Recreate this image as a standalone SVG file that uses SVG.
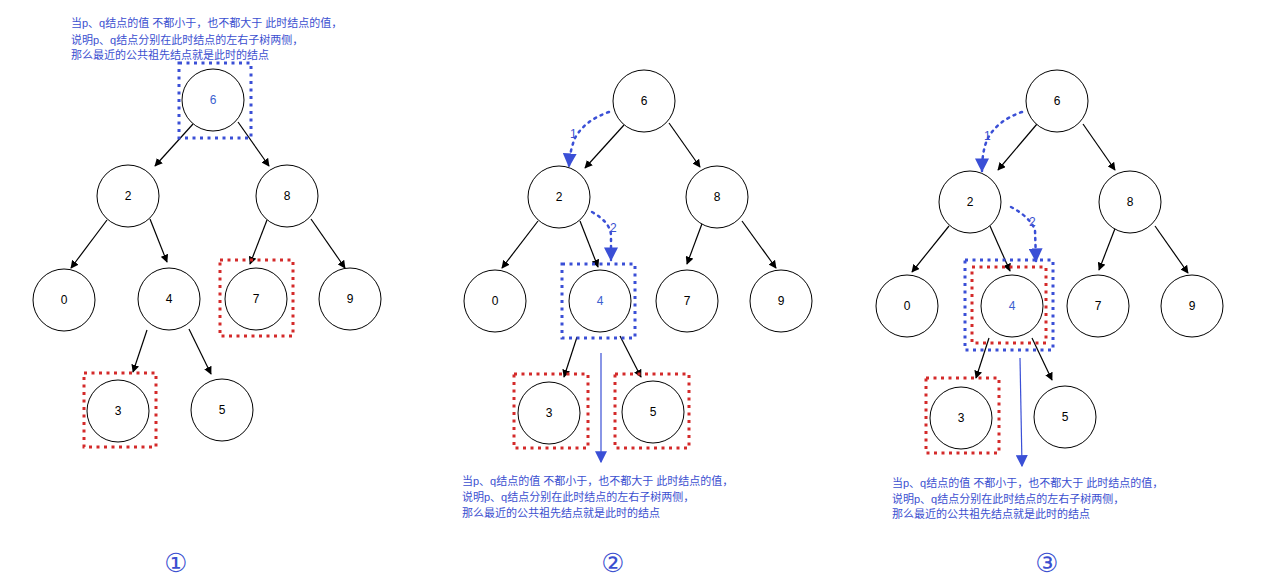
<svg xmlns="http://www.w3.org/2000/svg" width="1265" height="579" viewBox="0 0 1265 579">
<style>
.n circle{fill:#fff;stroke:#000;stroke-width:1}
.n text{font-family:"Liberation Sans",sans-serif;font-size:12px;text-anchor:middle;dominant-baseline:central;fill:#000}
.n text.b{fill:#3b5fd0}
.e line{stroke:#000;stroke-width:1.2;marker-end:url(#ah)}
.bb{fill:none;stroke:#3a4fd6;stroke-width:3;stroke-dasharray:3 4.5}
.rb{fill:none;stroke:#d42a2a;stroke-width:3;stroke-dasharray:3 4.5}
.d{fill:none;stroke:#3a4fd6;stroke-width:2.5;stroke-dasharray:2 5;stroke-linecap:round;marker-end:url(#bh)}
.t{font-family:"Liberation Sans","Noto Sans CJK SC",sans-serif;font-size:11px;fill:#3b4fd0}
.c{font-family:"DejaVu Sans","Noto Sans CJK SC",sans-serif;font-size:26px;fill:#3b4fd0;text-anchor:middle}
.l{font-family:"Liberation Sans",sans-serif;font-size:12px;fill:#3b4fd0}
</style>
<defs>
<marker id="ah" viewBox="0 0 10 10" refX="9" refY="5" markerWidth="8" markerHeight="8" orient="auto" markerUnits="userSpaceOnUse" ><path d="M0,0L10,5L0,10z" fill="#000"/></marker>
<marker id="ah2" viewBox="0 0 10 10" refX="9" refY="5" markerWidth="12" markerHeight="12" orient="auto" markerUnits="userSpaceOnUse"><path d="M0,0L10,5L0,10z" fill="#000"/></marker>
<marker id="bh" viewBox="0 0 10 10" refX="9" refY="5" markerWidth="14" markerHeight="14" orient="auto" markerUnits="userSpaceOnUse"><path d="M0,0L10,5L0,10z" fill="#3a4fd6"/></marker>
<marker id="bh2" viewBox="0 0 10 10" refX="9" refY="5" markerWidth="12" markerHeight="12" orient="auto" markerUnits="userSpaceOnUse"><path d="M0,0L10,5L0,10z" fill="#3a4fd6"/></marker>
</defs>
<rect width="1265" height="579" fill="#fff"/>
<g id="connectors" class="e">
<line x1="193" y1="124" x2="155" y2="166"/><line x1="238" y1="122" x2="269" y2="166"/>
<line x1="107" y1="220" x2="71" y2="268"/><line x1="150" y1="219" x2="167" y2="262"/>
<line x1="267" y1="220" x2="250" y2="264"/><line x1="311" y1="219" x2="345" y2="268"/>
<line x1="147" y1="330" x2="133" y2="372"/><line x1="189" y1="329" x2="211" y2="374"/>
<line x1="624" y1="125" x2="585" y2="168"/><line x1="669" y1="123" x2="700" y2="167"/>
<line x1="538" y1="221" x2="502" y2="268"/><line x1="580" y1="221" x2="598" y2="267"/>
<line x1="703" y1="221" x2="687" y2="264"/><line x1="742" y1="221" x2="776" y2="268"/>
<line x1="577" y1="337" x2="564" y2="377"/><line x1="620" y1="336" x2="641" y2="377"/>
<line x1="1037" y1="124" x2="998" y2="170"/><line x1="1083" y1="124" x2="1115" y2="170"/>
<line x1="949" y1="226" x2="912" y2="272"/><line x1="990" y1="226" x2="1010" y2="271"/>
<line x1="1116" y1="226" x2="1099" y2="270"/><line x1="1155" y1="226" x2="1188" y2="273"/>
<line x1="989" y1="338" x2="976" y2="378"/><line x1="1032" y1="338" x2="1052" y2="380"/>
<path class="d" d="M609,112 Q585,120 575,138 Q570,150 569,166"/>
<path class="d" d="M592,212 Q610,222 611,235 L611,260"/>
<path class="d" d="M1022,112 Q998,120 988,138 Q982,150 982,171"/>
<path class="d" d="M1011,207 Q1030,217 1035,230 L1036,261"/>
<line x1="601" y1="353" x2="601" y2="462" style="stroke:#3a4fd6;marker-end:url(#bh2)"/>
<line x1="1020" y1="358" x2="1022" y2="466" style="stroke:#3a4fd6;marker-end:url(#bh2)"/>
</g>
<text class="l" x="570" y="138">1</text><text class="l" x="610" y="232">2</text>
<text class="l" x="984" y="140">1</text><text class="l" x="1029" y="226">2</text>
<g id="p1-6" class="n"><circle cx="213" cy="100" r="31"/><text class="b" x="213" y="100">6</text></g>
<g id="p1-2" class="n"><circle cx="128" cy="196" r="31"/><text x="128" y="196">2</text></g>
<g id="p1-8" class="n"><circle cx="287" cy="196" r="31"/><text x="287" y="196">8</text></g>
<g id="p1-0" class="n"><circle cx="64" cy="300" r="31"/><text x="64" y="300">0</text></g>
<g id="p1-4" class="n"><circle cx="169" cy="299" r="31"/><text x="169" y="299">4</text></g>
<g id="p1-7" class="n"><circle cx="256" cy="299" r="31"/><text x="256" y="299">7</text></g>
<g id="p1-9" class="n"><circle cx="350" cy="299" r="31"/><text x="350" y="299">9</text></g>
<g id="p1-3" class="n"><circle cx="118" cy="411" r="31"/><text x="118" y="411">3</text></g>
<g id="p1-5" class="n"><circle cx="222" cy="410" r="31"/><text x="222" y="410">5</text></g>
<g id="p2-6" class="n"><circle cx="644" cy="101" r="31"/><text x="644" y="101">6</text></g>
<g id="p2-2" class="n"><circle cx="559" cy="197" r="31"/><text x="559" y="197">2</text></g>
<g id="p2-8" class="n"><circle cx="717" cy="197" r="31"/><text x="717" y="197">8</text></g>
<g id="p2-0" class="n"><circle cx="495" cy="301" r="31"/><text x="495" y="301">0</text></g>
<g id="p2-4" class="n"><circle cx="600" cy="301" r="31"/><text class="b" x="600" y="301">4</text></g>
<g id="p2-7" class="n"><circle cx="687" cy="301" r="31"/><text x="687" y="301">7</text></g>
<g id="p2-9" class="n"><circle cx="781" cy="301" r="31"/><text x="781" y="301">9</text></g>
<g id="p2-3" class="n"><circle cx="549" cy="413" r="31"/><text x="549" y="413">3</text></g>
<g id="p2-5" class="n"><circle cx="653" cy="412" r="31"/><text x="653" y="412">5</text></g>
<g id="p3-6" class="n"><circle cx="1057" cy="101" r="31"/><text x="1057" y="101">6</text></g>
<g id="p3-2" class="n"><circle cx="970" cy="202" r="31"/><text x="970" y="202">2</text></g>
<g id="p3-8" class="n"><circle cx="1130" cy="202" r="31"/><text x="1130" y="202">8</text></g>
<g id="p3-0" class="n"><circle cx="907" cy="306" r="31"/><text x="907" y="306">0</text></g>
<g id="p3-4" class="n"><circle cx="1012" cy="306" r="31"/><text class="b" x="1012" y="306">4</text></g>
<g id="p3-7" class="n"><circle cx="1098" cy="306" r="31"/><text x="1098" y="306">7</text></g>
<g id="p3-9" class="n"><circle cx="1192" cy="306" r="31"/><text x="1192" y="306">9</text></g>
<g id="p3-3" class="n"><circle cx="961" cy="418" r="31"/><text x="961" y="418">3</text></g>
<g id="p3-5" class="n"><circle cx="1065" cy="417" r="31"/><text x="1065" y="417">5</text></g>
<rect class="bb" x="179" y="63" width="72" height="75"/>
<rect class="rb" x="220" y="260" width="73" height="76"/>
<rect class="rb" x="84" y="373" width="72" height="74"/>
<rect class="bb" x="562" y="264" width="73" height="74"/>
<rect class="rb" x="514" y="374" width="74" height="74"/>
<rect class="rb" x="615" y="374" width="74" height="74"/>
<rect class="bb" x="965" y="260" width="88" height="90"/>
<rect class="rb" x="972" y="267" width="74" height="76"/>
<rect class="rb" x="926" y="378" width="73" height="75"/>
<text class="t" x="71" y="27">当p、q结点的值 不都小于，也不都大于 此时结点的值，</text>
<text class="t" x="71" y="44">说明p、q结点分别在此时结点的左右子树两侧，</text>
<text class="t" x="71" y="59">那么最近的公共祖先结点就是此时的结点</text>
<text class="t" x="462" y="485">当p、q结点的值 不都小于，也不都大于 此时结点的值，</text>
<text class="t" x="462" y="501">说明p、q结点分别在此时结点的左右子树两侧，</text>
<text class="t" x="462" y="517">那么最近的公共祖先结点就是此时的结点</text>
<text class="t" x="892" y="487">当p、q结点的值 不都小于，也不都大于 此时结点的值，</text>
<text class="t" x="892" y="503">说明p、q结点分别在此时结点的左右子树两侧，</text>
<text class="t" x="892" y="518">那么最近的公共祖先结点就是此时的结点</text>
<text class="c" x="176" y="572">①</text>
<text class="c" x="613" y="572">②</text>
<text class="c" x="1047" y="572">③</text>
</svg>
